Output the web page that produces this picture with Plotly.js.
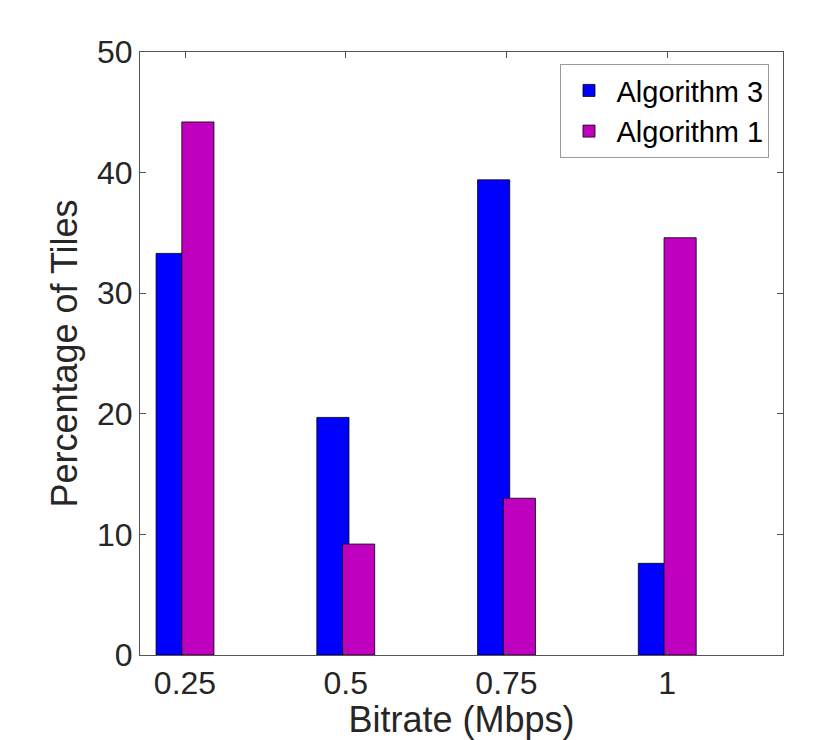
<!DOCTYPE html>
<html>
<head>
<meta charset="utf-8">
<script src="https://cdn.plot.ly/plotly-3.0.1.min.js"></script>
<style>
  html, body { margin: 0; padding: 0; background: #fff; }
  #chart { width: 830px; height: 740px; }
</style>
</head>
<body>
<div id="chart"></div>
<script>
var bitrates = [0.25, 0.5, 0.75, 1];
var bitrateLabels = ['0.25', '0.5', '0.75', '1'];
var algorithm3 = [33.3, 19.7, 39.4, 7.6];
var algorithm1 = [44.2, 9.2, 13.0, 34.6];

var font = 'Liberation Sans, Arial, Helvetica, sans-serif';
var ink = '#262626';

var trace1 = {
  type: 'bar',
  name: 'Algorithm 3',
  x: bitrates,
  y: algorithm3,
  width: 0.05,
  offset: -0.045,
  marker: {color: '#0000ff', line: {color: '#000000', width: 0.8}}
};

var trace2 = {
  type: 'bar',
  name: 'Algorithm 1',
  x: bitrates,
  y: algorithm1,
  width: 0.05,
  offset: -0.005,
  marker: {color: '#bf00bf', line: {color: '#000000', width: 0.8}}
};

var layout = {
  width: 830,
  height: 740,
  margin: {l: 140, r: 47, t: 52, b: 85},
  paper_bgcolor: '#ffffff',
  plot_bgcolor: '#ffffff',
  barmode: 'overlay',
  font: {family: font, color: ink},
  showlegend: true,
  legend: {
    x: 0.979,
    y: 0.98,
    xanchor: 'right',
    yanchor: 'top',
    bgcolor: '#ffffff',
    bordercolor: '#9a9a9a',
    borderwidth: 1,
    itemwidth: 45,
    font: {family: font, size: 29, color: '#000000'},
    tracegroupgap: 0
  },
  xaxis: {
    range: [0.18, 1.18],
    tickmode: 'array',
    tickvals: bitrates,
    ticktext: bitrateLabels,
    ticks: 'inside',
    ticklen: 6,
    tickcolor: '#555555',
    showline: true,
    linecolor: '#555555',
    linewidth: 1,
    mirror: 'ticks',
    showgrid: false,
    zeroline: false,
    tickfont: {family: font, size: 32, color: ink},
    title: {text: 'Bitrate (Mbps)', font: {family: font, size: 36, color: ink}, standoff: 0}
  },
  yaxis: {
    range: [0, 50],
    tickmode: 'array',
    tickvals: [0, 10, 20, 30, 40, 50],
    ticks: 'inside',
    ticklen: 6,
    tickcolor: '#555555',
    showline: true,
    linecolor: '#555555',
    linewidth: 1,
    mirror: 'ticks',
    showgrid: false,
    zeroline: false,
    tickfont: {family: font, size: 32, color: ink},
    title: {text: 'Percentage of Tiles', font: {family: font, size: 36, color: ink}, standoff: 8}
  }
};

Plotly.newPlot('chart', [trace1, trace2], layout, {staticPlot: true});
</script>
</body>
</html>
